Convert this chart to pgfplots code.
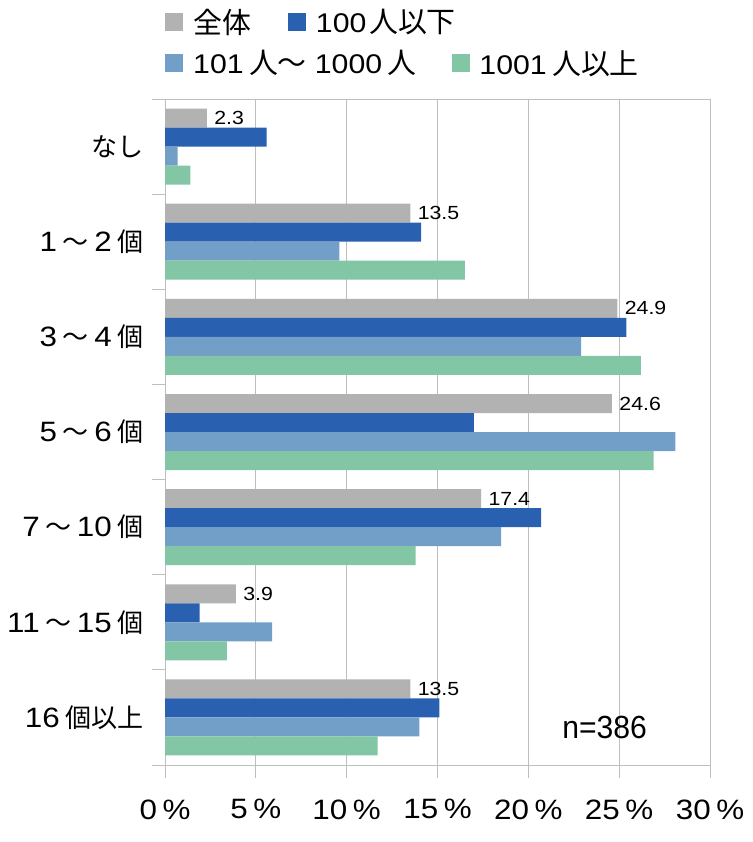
\documentclass[border=0pt]{standalone}
\usepackage{pgfplots}
\pgfplotsset{compat=1.18}
\usepackage{fontspec}
\setmainfont{Liberation Sans}[FakeStretch=1.12]
\newfontfamily\jpS{Noto Sans CJK JP}[Scale=0.93]
\newfontfamily\jpL{Noto Sans CJK JP}[Scale=1.07]
\newcommand\gp{\hspace{0.2em}}
\definecolor{cAll}{HTML}{B2B2B2}
\definecolor{cS}{HTML}{2A60B0}
\definecolor{cM}{HTML}{729FC8}
\definecolor{cL}{HTML}{83C6A6}
\definecolor{gridc}{HTML}{BEBEBE}
\pgfplotsset{sq/.style={legend image code/.code={\fill[##1] (0pt,-9pt) rectangle (18pt,9pt);}}}
\begin{document}
\begin{tikzpicture}
\useasboundingbox (0,0) rectangle (752pt,842pt);
\begin{axis}[
  at={(165pt,77pt)}, anchor=south west,
  width=545pt, height=666pt, scale only axis,
  xbar, bar width=19pt,
  xmin=0, xmax=30, ymin=-0.5, ymax=6.5, y dir=reverse,
  /pgf/number format/assume math mode=true,
  xtick={0,5,...,30},
  xticklabels={0\gp\%,5\gp\%,10\gp\%,15\gp\%,20\gp\%,25\gp\%,30\gp\%},
  xticklabel style={font=\fontsize{28}{30}\selectfont, yshift=-18pt},
  ytick={-0.5,0.5,...,6.5}, yticklabels={},
  extra y ticks={0,1,2,3,4,5,6},
  extra y tick labels={{\jpS なし},{1\gp{\jpS ～}\gp 2\gp{\jpS 個}},{3\gp{\jpS ～}\gp 4\gp{\jpS 個}},{5\gp{\jpS ～}\gp 6\gp{\jpS 個}},{7\gp{\jpS ～}\gp 10\gp{\jpS 個}},{11\gp{\jpS ～}\gp 15\gp{\jpS 個}},{16\gp{\jpS 個以上}}},
  extra y tick style={tick style={draw=none}, grid=none,
    yticklabel style={font=\fontsize{28}{30}\selectfont, xshift=-5pt}},
  tick align=outside, xtick pos=bottom, ytick pos=left,
  major tick length=13pt,
  tick style={draw=gridc, line width=1pt},
  axis line style={draw=gridc, line width=1pt},
  xmajorgrids, grid style={draw=gridc, line width=1pt},
  legend columns=-1,
  legend style={at={(0,1.1156)}, anchor=west, draw=none, fill=none, inner sep=0pt,
    font=\fontsize{27}{30}\selectfont, column sep=0pt,
    nodes={inner sep=0pt},
    /tikz/every odd column/.append style={column sep=10pt},
    /tikz/every even column/.append style={column sep=37pt}},
]
\addplot[sq, fill=cAll, draw=none, bar shift=28.5pt, point meta=x,
  nodes near coords={\pgfmathprintnumber[fixed,fixed zerofill,precision=1]{\pgfplotspointmeta}},
  every node near coord/.append style={font=\fontsize{19}{21}\selectfont, anchor=west, xshift=4pt, text=black}]
  coordinates {(2.3,0) (13.5,1) (24.9,2) (24.6,3) (17.4,4) (3.9,5) (13.5,6)};
\addlegendentry{{\jpL 全体}}
\addplot[sq, fill=cS, draw=none, bar shift=9.5pt]
  coordinates {(5.6,0) (14.1,1) (25.4,2) (17.0,3) (20.7,4) (1.9,5) (15.1,6)};
\addlegendentry{100\hspace{0.1em}{\jpL 人以下}}
\addplot[sq, fill=cM, draw=none, bar shift=-9.5pt, forget plot]
  coordinates {(0.7,0) (9.6,1) (22.9,2) (28.1,3) (18.5,4) (5.9,5) (14.0,6)};
\addplot[sq, fill=cL, draw=none, bar shift=-28.5pt, forget plot]
  coordinates {(1.4,0) (16.5,1) (26.2,2) (26.9,3) (13.8,4) (3.4,5) (11.7,6)};
\node[font=\fontsize{32}{33}\selectfont] at (axis cs:24.2,6.11) {\scalebox{0.84}[1]{n=386}};
\end{axis}
\begin{axis}[
  at={(165pt,77pt)}, anchor=south west,
  width=545pt, height=666pt, scale only axis,
  hide axis, xmin=0, xmax=1, ymin=0, ymax=1,
  legend columns=-1,
  legend style={at={(0,1.054)}, anchor=west, draw=none, fill=none, inner sep=0pt,
    font=\fontsize{27}{30}\selectfont, column sep=0pt,
    nodes={inner sep=0pt},
    /tikz/every odd column/.append style={column sep=10pt},
    /tikz/every even column/.append style={column sep=35pt}},
]
\addlegendimage{sq, fill=cM, draw=none}
\addlegendentry{101\gp{\jpL 人～}\hspace{0.3em}1000\gp{\jpL 人}}
\addlegendimage{sq, fill=cL, draw=none}
\addlegendentry{1001\gp{\jpL 人以上}}
\end{axis}
\end{tikzpicture}
\end{document}
